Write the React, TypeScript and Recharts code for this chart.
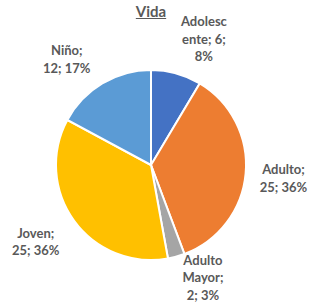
import { PieChart, Pie, Cell } from "recharts";

const categories = ["Adolescente", "Adulto", "Adulto Mayor", "Joven", "Niño"];
const values = [6, 25, 2, 25, 12];
const colors = ["#4472C4", "#ED7D31", "#A5A5A5", "#FFC000", "#5B9BD5"];

// nudges for the data labels (Excel "best fit" placement)
const labelNudge = [
  [17, 4],
  [-2, 1],
  [16, -18],
  [-6, -3],
  [-15, 10],
];

const total = values.reduce((a, b) => a + b, 0);
const data = categories.map((name, i) => ({ name, value: values[i] }));

// percentages rounded so they add up to 100 (largest remainder)
const rawPct = values.map((v) => (v / total) * 100);
const pcts = rawPct.map((p) => Math.floor(p));
let missing = 100 - pcts.reduce((a, b) => a + b, 0);
rawPct
  .map((p, i) => ({ i, rem: p - Math.floor(p) }))
  .sort((a, b) => b.rem - a.rem)
  .forEach(({ i }) => {
    if (missing > 0) {
      pcts[i] += 1;
      missing -= 1;
    }
  });

const RAD = Math.PI / 180;
const LINE_H = 17.5;
const textColor = "#595959";
const font = "Lato, 'Open Sans', sans-serif";

// word wrap like Excel: max ~8 chars per line, long words cut at 7
function wrapLabel(name: string, value: number, pct: number) {
  const tokens = `${name}; ${value}; ${pct}%`.split(" ");
  const lines: string[] = [];
  let cur = "";
  tokens.forEach((t) => {
    let tok = t;
    while (tok.length > 8) {
      if (cur) {
        lines.push(cur);
        cur = "";
      }
      lines.push(tok.slice(0, 7));
      tok = tok.slice(7);
    }
    const next = cur ? cur + " " + tok : tok;
    if (next.length > 8 && cur) {
      lines.push(cur);
      cur = tok;
    } else {
      cur = next;
    }
  });
  if (cur) lines.push(cur);
  return lines;
}

const renderLabel = (props: any) => {
  const { cx, cy, midAngle, index, name, value } = props;
  const r = 135;
  const x = cx + r * Math.cos(-midAngle * RAD) + labelNudge[index][0];
  const y = cy + r * Math.sin(-midAngle * RAD) + labelNudge[index][1];
  const lines = wrapLabel(name, value, pcts[index]);
  const y0 = y - ((lines.length - 1) * LINE_H) / 2;
  return (
    <text
      x={x}
      y={y0}
      textAnchor="middle"
      fill={textColor}
      fontFamily={font}
      fontWeight="bold"
      fontSize={13}
    >
      {lines.map((l, i) => (
        <tspan key={i} x={x} y={y0 + i * LINE_H} dominantBaseline="central">
          {l}
        </tspan>
      ))}
    </text>
  );
};

export default function App() {
  return (
    <div style={{ position: "relative", width: 311, height: 303, background: "#fff" }}>
      <style>{"body{margin:0}"}</style>
      <div
        style={{
          position: "absolute",
          top: 2,
          left: 0,
          width: 302,
          textAlign: "center",
          fontFamily: font,
          fontWeight: "bold",
          fontSize: 15,
          color: textColor,
          textDecoration: "underline",
          zIndex: 1,
        }}
      >
        Vida
      </div>
      <PieChart width={311} height={303} margin={{ top: 0, right: 0, bottom: 0, left: 0 }}>
        <Pie
          data={data}
          dataKey="value"
          nameKey="name"
          cx={151}
          cy={165}
          outerRadius={95}
          startAngle={90}
          endAngle={-270}
          stroke="#ffffff"
          strokeWidth={2}
          label={renderLabel}
          labelLine={false}
          isAnimationActive={false}
        >
          {data.map((d, i) => (
            <Cell key={d.name} fill={colors[i]} />
          ))}
        </Pie>
      </PieChart>
    </div>
  );
}
